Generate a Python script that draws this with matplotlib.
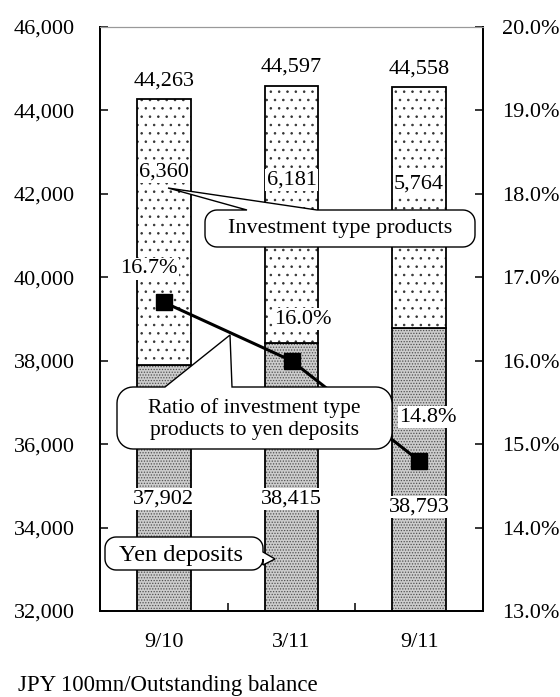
import numpy as np
import matplotlib
matplotlib.use('Agg')
import matplotlib.pyplot as plt
from matplotlib.patches import Polygon
from matplotlib.transforms import Affine2D
from matplotlib.ticker import FuncFormatter

plt.rcParams['font.family'] = ['Liberation Serif', 'DejaVu Serif']
plt.rcParams['hatch.linewidth'] = 0.6

# data
categories = ['9/10', '3/11', '9/11']
yen_deposits = [37902, 38415, 38793]
investment = [6360, 6181, 5764]
totals = [44263, 44597, 44558]
ratio = [16.7, 16.0, 14.8]

# label placement (left-axis units for bar labels, points offset for ratio labels)
inv_label_y = [42525, 42335, 42240]
yen_label_y = [34690, 34690, 34500]
ratio_offsets = [(-11, 24), (8, 30), (6.5, 31.5)]

W, H = 560, 697
fig = plt.figure(figsize=(W / 100, H / 100), dpi=100)
ax = fig.add_axes([100 / W, 1 - 611 / H, 383 / W, 584 / H])
ax2 = ax.twinx()

x = np.arange(len(categories))
bw = 0.42
fs = 16

# yen deposits: dense grey dots
ax.bar(x, yen_deposits, bw, color='#cdcdcd', hatch='......', edgecolor='#505050', linewidth=0)
ax.bar(x, yen_deposits, bw, fill=False, edgecolor='black', linewidth=1.3)
# investment type products: sparse dots on white
ax.bar(x, investment, bw, bottom=yen_deposits, color='white', hatch='..', edgecolor='#333333', linewidth=0)
ax.bar(x, investment, bw, bottom=yen_deposits, fill=False, edgecolor='black', linewidth=1.3)

ax.set_xlim(-0.5, 2.5)
ax.set_ylim(32000, 46000)
ax.set_yticks(np.arange(32000, 46001, 2000))
ax.yaxis.set_major_formatter(FuncFormatter(lambda v, p: f'{v:,.0f}'))
ax.set_xticks(x, categories)
ax.set_xticks([0.5, 1.5], minor=True)
ax.tick_params(axis='x', which='major', length=0, pad=16, labelsize=fs)
ax.tick_params(axis='x', which='minor', direction='in', length=6, width=1.1)
ax.tick_params(axis='y', direction='in', length=6, width=1.1, pad=18, labelsize=fs)

ax2.set_ylim(13, 20)
ax2.set_yticks(np.arange(13, 20.01, 1))
ax2.yaxis.set_major_formatter(FuncFormatter(lambda v, p: f'{v:.1f}%'))
ax2.tick_params(axis='y', direction='in', length=6, width=1.1, pad=13.5, labelsize=fs)

for a in (ax, ax2):
    for s in ('left', 'right', 'bottom'):
        a.spines[s].set_linewidth(1.3)
    a.spines['top'].set_color('#999999')
    a.spines['top'].set_linewidth(0.8)

ax2.plot(x, ratio, '-s', color='black', lw=2.2, ms=12)

lbl = dict(ha='center', va='center', fontsize=fs)
wbox = dict(boxstyle='square,pad=0.06', facecolor='white', edgecolor='none')
for i in range(len(categories)):
    ax.annotate(f'{totals[i]:,}', (x[i], totals[i]), xytext=(0, 13),
                textcoords='offset points', **lbl)
    ax.text(x[i], inv_label_y[i], f'{investment[i]:,}', bbox=wbox, **lbl)
    ax.text(x[i], yen_label_y[i], f'{yen_deposits[i]:,}', bbox=wbox, **lbl)
    ax2.annotate(f'{ratio[i]:.1f}%', (x[i], ratio[i]), xytext=ratio_offsets[i],
                 textcoords='offset points', bbox=wbox, **lbl)

# callouts drawn in pixel coordinates (y from top)
px = Affine2D().scale(1 / 100, -1 / 100).translate(0, H / 100) + fig.dpi_scale_trans


def arc(cx, cy, r, t0, t1, n=10):
    t = np.radians(np.linspace(t0, t1, n))
    return list(zip(cx + r * np.cos(t), cy + r * np.sin(t)))


def callout(x0, y0, x1, y1, r, side, a, tip, b):
    v = [(x0 + r, y0)]
    if side == 'top':
        v += [(a, y0), tip, (b, y0)]
    v += arc(x1 - r, y0 + r, r, -90, 0)
    if side == 'right':
        v += [(x1, a), tip, (x1, b)]
    v += arc(x1 - r, y1 - r, r, 0, 90)
    v += arc(x0 + r, y1 - r, r, 90, 180)
    v += arc(x0 + r, y0 + r, r, 180, 270)
    fig.add_artist(Polygon(v, closed=True, transform=px, facecolor='white',
                           edgecolor='black', linewidth=1.0))


callout(205, 210, 475, 247, 12, 'top', 247, (168, 188), 317)
fig.text(340, 229, 'Investment type products', transform=px, ha='center',
         va='center', fontsize=16)

callout(117, 387, 392, 449, 16, 'top', 165, (230, 335), 232)
fig.text(254, 419, 'Ratio of investment type\nproducts to yen deposits',
         transform=px, ha='center', va='center', fontsize=15.5, linespacing=1.15)

callout(105, 537, 263, 570, 11, 'right', 552, (275, 559), 565)
fig.text(181, 555, 'Yen deposits', transform=px, ha='center', va='center',
         fontsize=17.5)

fig.text(18 / W, 1 - 686 / H, 'JPY 100mn/Outstanding balance', ha='left',
         va='center', fontsize=16.5)

fig.savefig('out.png', dpi=100)
